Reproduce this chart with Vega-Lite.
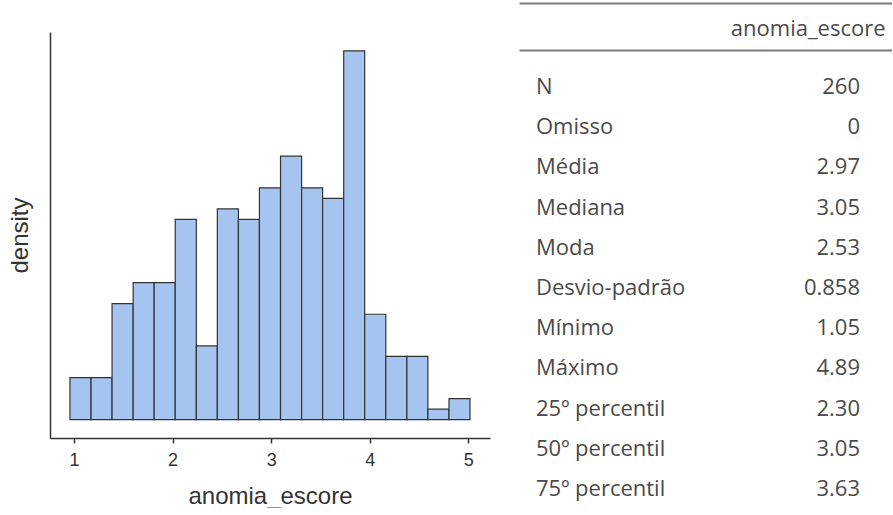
{
  "$schema": "https://vega.github.io/schema/vega-lite/v6.json",
  "padding": {"left": 8, "top": 3, "right": 0, "bottom": 0},
  "spacing": 29,
  "background": "white",
  "config": {"view": {"stroke": null}},
  "hconcat": [
    {
      "width": 440,
      "height": 406,
      "data": {
        "values": [
          {"bin_start": 0.959, "bin_end": 1.173, "density": 0.0720},
          {"bin_start": 1.173, "bin_end": 1.386, "density": 0.0720},
          {"bin_start": 1.386, "bin_end": 1.600, "density": 0.1981},
          {"bin_start": 1.600, "bin_end": 1.813, "density": 0.2341},
          {"bin_start": 1.813, "bin_end": 2.027, "density": 0.2341},
          {"bin_start": 2.027, "bin_end": 2.241, "density": 0.3421},
          {"bin_start": 2.241, "bin_end": 2.454, "density": 0.1260},
          {"bin_start": 2.454, "bin_end": 2.668, "density": 0.3601},
          {"bin_start": 2.668, "bin_end": 2.881, "density": 0.3421},
          {"bin_start": 2.881, "bin_end": 3.095, "density": 0.3961},
          {"bin_start": 3.095, "bin_end": 3.309, "density": 0.4502},
          {"bin_start": 3.309, "bin_end": 3.522, "density": 0.3961},
          {"bin_start": 3.522, "bin_end": 3.736, "density": 0.3781},
          {"bin_start": 3.736, "bin_end": 3.949, "density": 0.6302},
          {"bin_start": 3.949, "bin_end": 4.163, "density": 0.1801},
          {"bin_start": 4.163, "bin_end": 4.377, "density": 0.1080},
          {"bin_start": 4.377, "bin_end": 4.590, "density": 0.1080},
          {"bin_start": 4.590, "bin_end": 4.804, "density": 0.0180},
          {"bin_start": 4.804, "bin_end": 5.017, "density": 0.0360}
        ]
      },
      "mark": {"type": "bar", "fill": "#a6c4f0", "stroke": "#333333", "strokeWidth": 1.2},
      "encoding": {
        "x": {
          "field": "bin_start",
          "type": "quantitative",
          "scale": {"domain": [0.7565, 5.2201], "nice": false, "zero": false},
          "axis": {
            "values": [1, 2, 3, 4, 5],
            "title": "anomia_escore",
            "grid": false,
            "domainColor": "#333333",
            "domainWidth": 1.5,
            "tickColor": "#333333",
            "tickWidth": 1.5,
            "tickSize": 5,
            "labelFont": "Liberation Sans",
            "labelFontSize": 18,
            "labelColor": "#333333",
            "labelPadding": 8,
            "labelFlush": false,
            "titleFont": "Liberation Sans",
            "titleFontSize": 24,
            "titleFontWeight": "normal",
            "titleColor": "#333333",
            "titlePadding": 15
          }
        },
        "x2": {"field": "bin_end"},
        "y": {
          "field": "density",
          "type": "quantitative",
          "scale": {"domain": [-0.0313, 0.6623], "nice": false},
          "axis": {
            "title": "density",
            "labels": false,
            "ticks": false,
            "grid": false,
            "domainColor": "#333333",
            "domainWidth": 1.5,
            "titleFont": "Liberation Sans",
            "titleFontSize": 24,
            "titleFontWeight": "normal",
            "titleColor": "#333333",
            "titlePadding": 18
          }
        },
        "y2": {"datum": 0}
      }
    },
    {
      "width": 373,
      "height": 457,
      "data": {
        "values": [
          {"Estatística": "N", "anomia_escore": "260"},
          {"Estatística": "Omisso", "anomia_escore": "0"},
          {"Estatística": "Média", "anomia_escore": "2.97"},
          {"Estatística": "Mediana", "anomia_escore": "3.05"},
          {"Estatística": "Moda", "anomia_escore": "2.53"},
          {"Estatística": "Desvio-padrão", "anomia_escore": "0.858"},
          {"Estatística": "Mínimo", "anomia_escore": "1.05"},
          {"Estatística": "Máximo", "anomia_escore": "4.89"},
          {"Estatística": "25º percentil", "anomia_escore": "2.30"},
          {"Estatística": "50º percentil", "anomia_escore": "3.05"},
          {"Estatística": "75º percentil", "anomia_escore": "3.63"}
        ]
      },
      "layer": [
        {
          "mark": {"type": "text", "align": "left", "baseline": "middle", "font": "Open Sans", "fontSize": 22, "fill": "#4a4a4a"},
          "encoding": {
            "x": {
              "datum": "Estatística",
              "type": "nominal",
              "scale": {"type": "point", "domain": ["Estatística", "anomia_escore"], "padding": 0.0756, "align": 0.347},
              "axis": {
                "orient": "top",
                "offset": -18,
                "title": null,
                "grid": false,
                "ticks": false,
                "domain": true,
                "domainColor": "#7a7a7a",
                "domainWidth": 2,
                "labelExpr": "datum.value === 'anomia_escore' ? datum.value : ''",
                "labelAlign": "right",
                "labelOffset": 25,
                "labelFont": "Open Sans",
                "labelFontSize": 22,
                "labelColor": "#4a4a4a",
                "labelPadding": 10,
                "labelAngle": 0
              }
            },
            "y": {
              "field": "Estatística",
              "type": "nominal",
              "sort": null,
              "scale": {"type": "point", "padding": 0.684, "align": 1},
              "axis": null
            },
            "text": {"field": "Estatística"}
          }
        },
        {
          "mark": {"type": "text", "align": "right", "baseline": "middle", "font": "Open Sans", "fontSize": 22, "fill": "#4a4a4a"},
          "encoding": {
            "x": {
              "datum": "anomia_escore",
              "type": "nominal",
              "axis": {
                "orient": "top",
                "offset": 29,
                "title": null,
                "grid": false,
                "ticks": false,
                "labels": false,
                "domain": true,
                "domainColor": "#7a7a7a",
                "domainWidth": 2
              }
            },
            "y": {"field": "Estatística", "type": "nominal", "sort": null, "axis": null},
            "text": {"field": "anomia_escore"}
          }
        }
      ],
      "resolve": {"axis": {"x": "independent"}}
    }
  ]
}
